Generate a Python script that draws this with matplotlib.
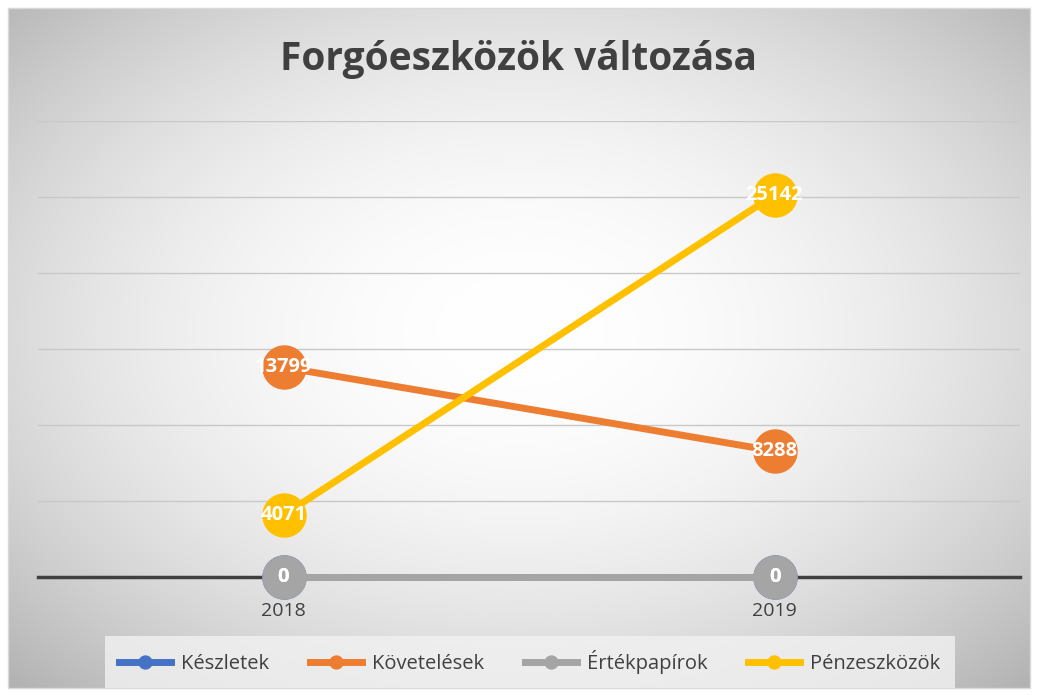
import numpy as np
import matplotlib.pyplot as plt

years = ['2018', '2019']
series_names = ['Készletek', 'Követelések', 'Értékpapírok', 'Pénzeszközök']
keszletek = [0, 0]
kovetelesek = [13799, 8288]
ertekpapirok = [0, 0]
penzeszkozok = [4071, 25142]
colors = ['#4472c4', '#ed7d31', '#a5a5a5', '#ffc000']

plt.rcParams['font.family'] = ['Open Sans', 'DejaVu Sans']

fig = plt.figure(figsize=(10.37, 6.95), dpi=100)

# background with radial gradient
bg = fig.add_axes([0, 0, 1, 1], zorder=-10)
h, w = 695, 1037
yy, xx = np.mgrid[0:h, 0:w]
r = np.sqrt(((xx - 520) / 640.0) ** 2 + ((yy - 330) / 430.0) ** 2)
shade = 1.0 - 0.23 * np.clip(r, 0, 1.2) ** 2.0
img = np.dstack([shade, shade, shade])
img[:8, :] = 1
img[-7:, :] = 1
img[:, :8] = 1
img[:, -7:] = 1
bg.imshow(img, extent=[0, w, h, 0], aspect='auto')
bg.plot([8, w - 7, w - 7, 8, 8], [8, 8, h - 7, h - 7, 8], color='#d9d9d9', lw=1)
bg.set_xlim(0, w)
bg.set_ylim(h, 0)
bg.axis('off')

ax = fig.add_axes([38 / 1037, 118 / 695, 982 / 1037, 456 / 695])
ax.patch.set_alpha(0)

x = np.arange(len(years))
all_series = [keszletek, kovetelesek, ertekpapirok, penzeszkozok]
for i, (name, vals) in enumerate(zip(series_names, all_series)):
    ax.plot(x, vals, color=colors[i], lw=5, marker='o', markersize=31,
            label=name, zorder=3 + i, clip_on=False)
    for xi, v in zip(x, vals):
        ax.text(xi, v, str(v), ha='center', va='center', color='white',
                fontsize=14.5, fontweight='bold', zorder=10 + i)

ax.set_xlim(-0.5, 1.5)
ax.set_ylim(0, 30000)
ax.set_yticks(np.arange(0, 30001, 5000))
ax.set_yticklabels([])
ax.tick_params(axis='y', length=0)
ax.grid(axis='y', color='#c8c8c8', lw=1)
ax.set_axisbelow(True)
ax.axhline(0, color='#404040', lw=2.5, zorder=2, clip_on=False)
ax.set_xticks(x)
ax.set_xticklabels(years, fontsize=14, color='#404040')
ax.tick_params(axis='x', length=0, pad=18)
for s in ax.spines.values():
    s.set_visible(False)

fig.text(0.5, 0.915, 'Forgóeszközök változása', ha='center', va='center',
         fontsize=28, fontweight='bold', color='#404040')

leg = fig.legend(loc='center', bbox_to_anchor=(0.511, 0.048), ncol=4,
                 frameon=True, fontsize=14.5, markerscale=0.3, handlelength=2.6,
                 columnspacing=2.0, handletextpad=0.5, borderpad=0.4)
leg.get_frame().set_facecolor('#f2f2f2')
leg.get_frame().set_edgecolor('none')
leg.get_frame().set_boxstyle('square')
for t in leg.get_texts():
    t.set_color('#404040')

fig.savefig('out.png', dpi=100)
